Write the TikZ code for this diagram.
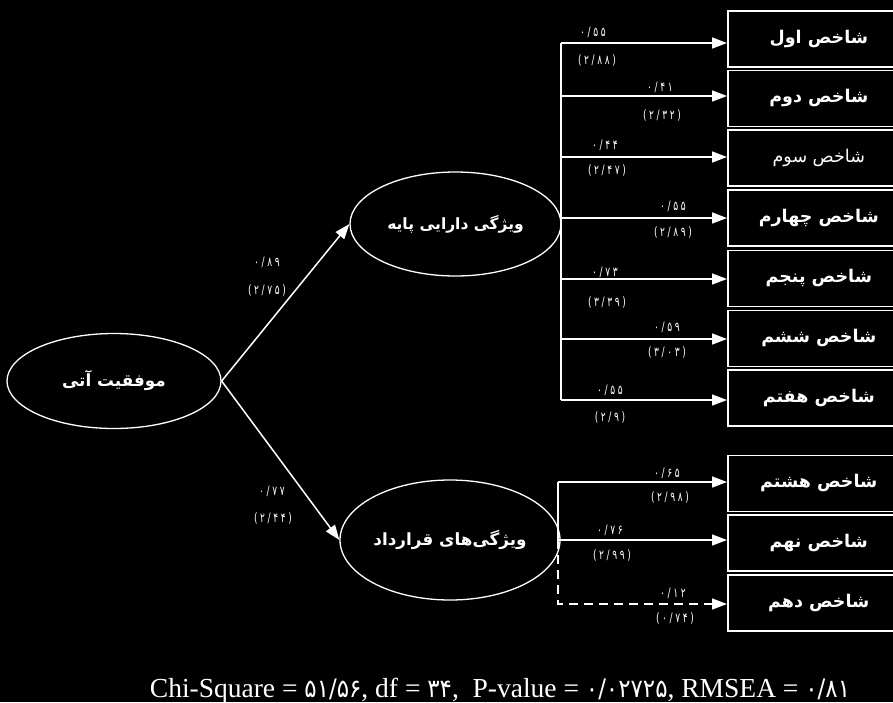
\documentclass[tikz,border=0pt]{standalone}
\usepackage{fontspec}
\setmainfont{Liberation Serif}
\newfontfamily\farsi[Script=Arabic]{DejaVu Sans}
\newfontfamily\coeffont[FakeStretch=0.7,LetterSpace=20]{DejaVu Sans}
\newfontfamily\statfont[FakeStretch=0.9]{DejaVu Sans}
\TeXXeTstate=1
\usetikzlibrary{arrows.meta,shapes.geometric}

\tikzset{
  latent/.style={ellipse, draw=white, line width=1.3pt, inner sep=0pt, text=white,
    font=\farsi\bfseries\fontsize{16.8}{20}\selectfont},
  indicator/.style={rectangle, draw=white, line width=1.6pt, minimum width=182pt,
    minimum height=56pt, anchor=north west, inner sep=0pt, text=white,
    font=\farsi\bfseries\fontsize{17.5}{21}\selectfont},
  link/.style={draw=white, line width=1.5pt, -{Triangle[length=15pt,width=11pt]}},
  bus/.style={draw=white, line width=1.5pt},
  coef/.style={text=white, inner sep=0pt, font=\coeffont\fontsize{13}{15}\selectfont},
  fitline/.style={text=white, inner sep=0pt, anchor=base, font=\fontsize{27.5}{31}\selectfont},
}
\newcommand\statnum[1]{{\statfont\fontsize{25.5}{31}\selectfont #1}}

\begin{document}
\begin{tikzpicture}[x=1pt,y=-1pt]
  \fill[black] (0,0) rectangle (893,702);
  \useasboundingbox (0,0) rectangle (893,702);
  \clip (0,0) rectangle (893,702);

  % latent variables
  \node[latent, minimum width=214pt, minimum height=95pt] (fut) at (114,381) {\beginR موفقیت آتی\endR};
  \node[latent, minimum width=211pt, minimum height=104pt, font=\farsi\bfseries\fontsize{15.5}{19}\selectfont] (base) at (455.5,224) {\beginR ویژگی دارایی پایه\endR};
  \node[latent, minimum width=220pt, minimum height=120pt] (contr) at (450,540) {\beginR ویژگی‌های قرارداد\endR};

  % indicators
  \node[indicator] (s1) at (727,10) {\beginR شاخص اول\endR};
  \node[indicator] (s2) at (727,69.5) {\beginR شاخص دوم\endR};
  \node[indicator, font=\farsi\fontsize{17.5}{21}\selectfont] (s3) at (727,129) {\beginR شاخص سوم\endR};
  \node[indicator] (s4) at (727,189) {\beginR شاخص چهارم\endR};
  \node[indicator] (s5) at (727,249.5) {\beginR شاخص پنجم\endR};
  \node[indicator] (s6) at (727,309.5) {\beginR شاخص ششم\endR};
  \node[indicator] (s7) at (727,369) {\beginR شاخص هفتم\endR};
  \node[indicator] (s8) at (727,454.5) {\beginR شاخص هشتم\endR};
  \node[indicator] (s9) at (727,514) {\beginR شاخص نهم\endR};
  \node[indicator] (s10) at (727,574) {\beginR شاخص دهم\endR};

  % structural paths
  \draw[link] (fut.east) -- (base.west);
  \draw[link] (fut.east) -- (contr.west);

  % loadings of the first factor
  \coordinate (t1) at (561,43);
  \coordinate (t2) at (561,96);
  \coordinate (t3) at (561,157);
  \coordinate (t4) at (561,218);
  \coordinate (t5) at (561,279);
  \coordinate (t6) at (561,339);
  \coordinate (t7) at (561,400);
  \draw[bus] (t1) -- (t7);
  \foreach \i in {1,...,7} \draw[link] (t\i) -- (t\i -| s\i.west);

  % loadings of the second factor
  \coordinate (u1) at (558,482);
  \coordinate (u2) at (558,540);
  \coordinate (u3) at (558,604);
  \draw[bus] (u1) -- (u2);
  \draw[link] (u1) -- (u1 -| s8.west);
  \draw[link] (u2) -- (u2 -| s9.west);
  \draw[link, dash pattern=on 9pt off 6pt] (u2) -- (u3) -- (u3 -| s10.west);

  % coefficients and t-values
  \node[coef] (pa) at (267,262) {۰/۸۹};
  \node[coef] (pat) at (267,290) {(۲/۷۵)};
  \node[coef] (pb) at (272,491) {۰/۷۷};
  \node[coef] (pbt) at (273,518) {(۲/۴۴)};
  \node[coef] (l1) at (593,32) {۰/۵۵};
  \node[coef] (l1t) at (597,60) {(۲/۸۸)};
  \node[coef] (l2) at (660,87) {۰/۴۱};
  \node[coef] (l2t) at (662,115) {(۲/۳۲)};
  \node[coef] (l3) at (605,145) {۰/۴۴};
  \node[coef] (l3t) at (607,170) {(۲/۴۷)};
  \node[coef] (l4) at (673,206) {۰/۵۵};
  \node[coef] (l4t) at (673,232) {(۲/۸۹)};
  \node[coef] (l5) at (605,272) {۰/۷۳};
  \node[coef] (l5t) at (607,302) {(۳/۳۹)};
  \node[coef] (l6) at (667,327) {۰/۵۹};
  \node[coef] (l6t) at (667,352) {(۳/۰۳)};
  \node[coef] (l7) at (610,390) {۰/۵۵};
  \node[coef] (l7t) at (610,417) {(۲/۹)};
  \node[coef] (l8) at (667,473) {۰/۶۵};
  \node[coef] (l8t) at (670,497) {(۲/۹۸)};
  \node[coef] (l9) at (610,530) {۰/۷۶};
  \node[coef] (l9t) at (612,555) {(۲/۹۹)};
  \node[coef] (l10) at (673,593) {۰/۱۲};
  \node[coef] (l10t) at (675,618) {(۰/۷۴)};

  % goodness of fit
  \node[fitline] (fit) at (500,697) {Chi-Square = \statnum{۵۱/۵۶}, df = \statnum{۳۴},\ \ P-value = \statnum{۰/۰۲۷۲۵}, RMSEA = \statnum{۰/۸۱}};
\end{tikzpicture}
\end{document}
